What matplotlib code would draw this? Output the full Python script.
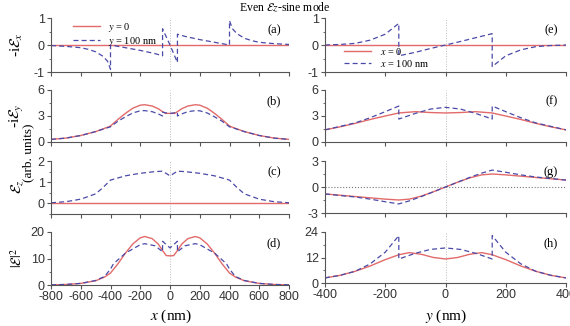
import matplotlib
matplotlib.use("Agg")
from matplotlib import pyplot as plt
from matplotlib.ticker import AutoMinorLocator

plt.rcParams["mathtext.fontset"] = "stix"
plt.rcParams["font.family"] = "Liberation Sans"

# ---- left column: along x (nm) ----
# (a) -iEx, y = 100 nm (y = 0 is zero everywhere)
a_x = [-800, -700, -600, -550, -500, -450, -420, -400, -400, -300, -200, -100, -50, -50, 0, 50, 50,
       100, 200, 300, 400, 400, 420, 450, 500, 550, 600, 700, 800]
a_blue = [-0.02, -0.05, -0.1, -0.16, -0.25, -0.42, -0.6, -0.9, 0.0, -0.1, -0.2, -0.32, -0.4, 0.6, 0.0, -0.65, 0.4,
          0.32, 0.2, 0.1, 0.0, 0.9, 0.6, 0.42, 0.25, 0.16, 0.1, 0.05, 0.02]

# (b) -iEy
b_x_red = [-800, -700, -600, -500, -420, -400, -350, -300, -250, -200, -170, -120, -80, -50, -30, 0,
           30, 50, 80, 120, 170, 200, 250, 300, 350, 400, 420, 500, 600, 700, 800]
b_red = [0.3, 0.45, 0.75, 1.2, 1.7, 1.85, 2.6, 3.3, 3.9, 4.25, 4.3, 4.15, 3.85, 3.5, 3.3, 3.3,
         3.3, 3.5, 3.85, 4.15, 4.3, 4.25, 3.9, 3.3, 2.6, 1.85, 1.7, 1.2, 0.75, 0.45, 0.3]
b_x_blue = [-800, -700, -600, -500, -420, -400, -350, -300, -250, -200, -170, -120, -80, -50, -50, -25, 0,
            25, 50, 50, 80, 120, 170, 200, 250, 300, 350, 400, 420, 500, 600, 700, 800]
b_blue = [0.3, 0.45, 0.75, 1.2, 1.65, 1.75, 2.4, 2.9, 3.35, 3.6, 3.62, 3.5, 3.25, 3.0, 3.45, 3.35, 3.3,
          3.35, 3.45, 3.0, 3.25, 3.5, 3.62, 3.6, 3.35, 2.9, 2.4, 1.75, 1.65, 1.2, 0.75, 0.45, 0.3]

# (c) Ez, y = 100 nm
c_x = [-800, -700, -600, -500, -450, -400, -300, -200, -100, -50, 0, 50, 100, 200, 300, 400, 450, 500,
       600, 700, 800]
c_blue = [0.03, 0.08, 0.2, 0.45, 0.75, 1.1, 1.3, 1.42, 1.5, 1.52, 1.3, 1.52, 1.5, 1.42, 1.3, 1.1, 0.75,
          0.45, 0.2, 0.08, 0.03]

# (d) |E|^2
d_x_red = [-800, -700, -600, -500, -440, -400, -350, -300, -250, -200, -170, -120, -80, -50, -25, 0,
           25, 50, 80, 120, 170, 200, 250, 300, 350, 400, 440, 500, 600, 700, 800]
d_red = [0.05, 0.2, 0.6, 1.6, 3.0, 4.5, 8.0, 12.0, 15.5, 17.8, 18.3, 17.5, 15.5, 13.0, 11.1, 11.0,
         11.1, 13.0, 15.5, 17.5, 18.3, 17.8, 15.5, 12.0, 8.0, 4.5, 3.0, 1.6, 0.6, 0.2, 0.05]
d_x_blue = [-800, -700, -600, -500, -440, -400, -380, -300, -200, -170, -100, -60, -50, -50, 0,
            50, 50, 60, 100, 170, 200, 300, 380, 400, 440, 500, 600, 700, 800]
d_blue = [0.05, 0.2, 0.6, 1.7, 3.2, 6.0, 8.0, 12.0, 15.2, 15.6, 14.8, 13.0, 12.5, 16.5, 14.0,
          16.5, 12.5, 13.0, 14.8, 15.6, 15.2, 12.0, 8.0, 6.0, 3.2, 1.7, 0.6, 0.2, 0.05]

# ---- right column: along y (nm) ----
# (e) -iEx, x = 100 nm
e_y = [-400, -350, -300, -250, -200, -155, -155, -100, -50, 0, 50, 100, 155, 155, 200, 250, 300, 350, 400]
e_blue = [0.0, 0.02, 0.06, 0.18, 0.4, 0.8, -0.4, -0.27, -0.13, 0.0, 0.13, 0.27, 0.42, -0.8, -0.4, -0.18,
          -0.06, -0.02, 0.0]

# (f) -iEy
f_y_red = [-400, -350, -300, -250, -200, -155, -100, -50, 0, 50, 100, 155, 200, 250, 300, 350, 400]
f_red = [1.4, 1.75, 2.15, 2.6, 3.0, 3.35, 3.5, 3.4, 3.35, 3.4, 3.5, 3.35, 3.0, 2.6, 2.15, 1.75, 1.4]
f_y_blue = [-400, -350, -300, -250, -200, -155, -155, -100, -50, 0, 50, 100, 155, 155, 200, 250, 300, 350, 400]
f_blue = [1.4, 1.8, 2.2, 2.8, 3.5, 4.15, 2.65, 3.3, 3.8, 4.0, 3.8, 3.3, 2.65, 4.15, 3.5, 2.8, 2.2, 1.8, 1.4]

# (g) Ez
g_y = [-400, -350, -300, -250, -200, -155, -120, -80, -40, 0, 40, 80, 120, 155, 200, 250, 300, 350, 400]
g_red = [-0.8, -0.95, -1.1, -1.25, -1.4, -1.5, -1.4, -1.05, -0.55, 0.0, 0.55, 1.05, 1.4, 1.5, 1.4, 1.25,
         1.1, 0.95, 0.8]
g_blue = [-0.8, -0.98, -1.15, -1.4, -1.7, -1.95, -1.6, -1.1, -0.55, 0.0, 0.55, 1.1, 1.6, 1.95, 1.7, 1.4,
          1.15, 0.98, 0.8]

# (h) |E|^2
h_y_red = [-400, -350, -300, -250, -200, -155, -120, -80, -40, 0, 40, 80, 120, 155, 200, 250, 300, 350, 400]
h_red = [2.4, 3.6, 5.5, 8.0, 11.0, 13.3, 14.3, 13.5, 12.0, 11.3, 12.0, 13.5, 14.3, 13.3, 11.0, 8.0, 5.5,
         3.6, 2.4]
h_y_blue = [-400, -350, -300, -250, -200, -155, -155, -100, -50, 0, 50, 100, 155, 155, 200, 250, 300, 350, 400]
h_blue = [2.4, 3.6, 5.5, 9.0, 14.5, 22.3, 11.3, 14.0, 15.8, 16.5, 15.8, 14.0, 11.3, 22.3, 14.5, 9.0, 5.5,
          3.6, 2.4]

RED = "#e26a6a"
BLUE = "#4a4aa8"
W, H = 570, 326


def make_ax(fig, left, right, top, bottom):
    ax = fig.add_axes([left / W, 1 - bottom / H, (right - left) / W, (bottom - top) / H])
    for s in ["top", "right"]:
        ax.spines[s].set_visible(False)
    for s in ["left", "bottom"]:
        ax.spines[s].set_color("#555555")
        ax.spines[s].set_linewidth(0.8)
    ax.tick_params(direction="out", length=3, width=0.8, colors="#555555", labelsize=9,
                   labelcolor="#333333", pad=1.5)
    ax.tick_params(which="minor", direction="out", length=1.8, width=0.6, colors="#555555")
    ax.yaxis.set_minor_locator(AutoMinorLocator(2))
    ax.axvline(0, color="#bbbbbb", lw=0.7, ls=":", zorder=0)
    return ax


def panel_label(ax, text):
    ax.text(0.965, 0.78, text, transform=ax.transAxes, ha="right", va="center",
            family="Liberation Serif", fontsize=9)


fig = plt.figure(figsize=(5.7, 3.26), dpi=100)

rows = [(18, 72), (90, 142), (161, 214), (232, 285)]
rows_r = [(18, 72), (90, 142), (161, 213), (232, 283)]
left_axes = [make_ax(fig, 51, 289, t, b) for t, b in rows]
right_axes = [make_ax(fig, 325, 566, t, b) for t, b in rows_r]

zero_x = [-800, 800]
zero_y = [-400, 400]

# left column
ax = left_axes[0]
ax.plot(zero_x, [0, 0], color=RED, lw=1, label="$y$ = 0")
ax.plot(a_x, a_blue, color=BLUE, lw=0.9, ls=(0, (4, 2.5)), label="$y$ = 100 nm")
ax.set_ylim(-1, 1)
ax.set_yticks([-1, 0, 1])
ax.set_yticklabels(["-1", "0", "1"])
leg = ax.legend(loc="upper left", bbox_to_anchor=(0.06, 1.08), frameon=False, handlelength=2.6,
                prop={"family": "Liberation Serif", "size": 7.5}, labelspacing=0.1, borderpad=0.2)
panel_label(ax, "(a)")

ax = left_axes[1]
ax.plot(b_x_red, b_red, color=RED, lw=1)
ax.plot(b_x_blue, b_blue, color=BLUE, lw=0.9, ls=(0, (4, 2.5)))
ax.set_ylim(0, 6)
ax.set_yticks([0, 3, 6])
panel_label(ax, "(b)")

ax = left_axes[2]
ax.plot(zero_x, [0, 0], color=RED, lw=1)
ax.plot(c_x, c_blue, color=BLUE, lw=0.9, ls=(0, (4, 2.5)))
ax.set_ylim(-0.5, 2)
ax.set_yticks([0, 1, 2])
panel_label(ax, "(c)")

ax = left_axes[3]
ax.plot(d_x_red, d_red, color=RED, lw=1)
ax.plot(d_x_blue, d_blue, color=BLUE, lw=0.9, ls=(0, (4, 2.5)))
ax.set_ylim(0, 20)
ax.set_yticks([0, 10, 20])
panel_label(ax, "(d)")

for ax in left_axes:
    ax.set_xlim(-800, 800)
    ax.set_xticks(range(-800, 801, 200))
    if ax is not left_axes[3]:
        ax.tick_params(labelbottom=False)
left_axes[3].set_xticklabels([str(v) for v in range(-800, 801, 200)])

# right column
ax = right_axes[0]
ax.plot(zero_y, [0, 0], color=RED, lw=1, label="$x$ = 0")
ax.plot(e_y, e_blue, color=BLUE, lw=0.9, ls=(0, (4, 2.5)), label="$x$ = 100 nm")
ax.set_ylim(-1, 1)
ax.set_yticks([-1, 0, 1])
ax.set_yticklabels(["-1", "0", "1"])
ax.legend(loc="lower left", bbox_to_anchor=(0.05, -0.08), frameon=False, handlelength=2.6,
          prop={"family": "Liberation Serif", "size": 7.5}, labelspacing=0.1, borderpad=0.2)
panel_label(ax, "(e)")

ax = right_axes[1]
ax.plot(f_y_red, f_red, color=RED, lw=1)
ax.plot(f_y_blue, f_blue, color=BLUE, lw=0.9, ls=(0, (4, 2.5)))
ax.set_ylim(0, 6)
ax.set_yticks([0, 3, 6])
panel_label(ax, "(f)")

ax = right_axes[2]
ax.axhline(0, color="#777777", lw=0.8, ls=":", zorder=0)
ax.plot(g_y, g_red, color=RED, lw=1)
ax.plot(g_y, g_blue, color=BLUE, lw=0.9, ls=(0, (4, 2.5)))
ax.set_ylim(-3, 3)
ax.set_yticks([-3, 0, 3])
ax.set_yticklabels(["-3", "0", "3"])
panel_label(ax, "(g)")

ax = right_axes[3]
ax.plot(h_y_red, h_red, color=RED, lw=1)
ax.plot(h_y_blue, h_blue, color=BLUE, lw=0.9, ls=(0, (4, 2.5)))
ax.set_ylim(0, 24)
ax.set_yticks([0, 12, 24])
panel_label(ax, "(h)")

for ax in right_axes:
    ax.set_xlim(-400, 400)
    ax.set_xticks(range(-400, 401, 200))
    if ax is not right_axes[3]:
        ax.tick_params(labelbottom=False)
right_axes[3].set_xticklabels([str(v) for v in range(-400, 401, 200)])

# y labels and texts
serif = "Liberation Serif"
fig.text(17 / W, 1 - 45 / H, r"-i$\mathcal{E}_x$", rotation=90, ha="center", va="center",
         family=serif, fontsize=11)
fig.text(17 / W, 1 - 116 / H, r"-i$\mathcal{E}_y$", rotation=90, ha="center", va="center",
         family=serif, fontsize=11)
fig.text(28 / W, 1 - 153 / H, "(arb. units)", rotation=90, ha="center", va="center",
         family=serif, fontsize=9.5)
fig.text(17 / W, 1 - 187 / H, r"$\mathcal{E}_z$", rotation=90, ha="center", va="center",
         family=serif, fontsize=11)
fig.text(17 / W, 1 - 258 / H, r"$|\mathcal{E}|^2$", rotation=90, ha="center", va="center",
         family=serif, fontsize=10)
fig.text(285 / W, 1 - 7.5 / H, r"Even $\mathcal{E}z$-sine mode", ha="center", va="center",
         family=serif, fontsize=8.5)
fig.text(171 / W, 1 - 316 / H, r"$x$ (nm)", ha="center", va="center", family=serif, fontsize=11)
fig.text(446 / W, 1 - 316 / H, r"$y$ (nm)", ha="center", va="center", family=serif, fontsize=11)

fig.savefig("out.png", dpi=100)
